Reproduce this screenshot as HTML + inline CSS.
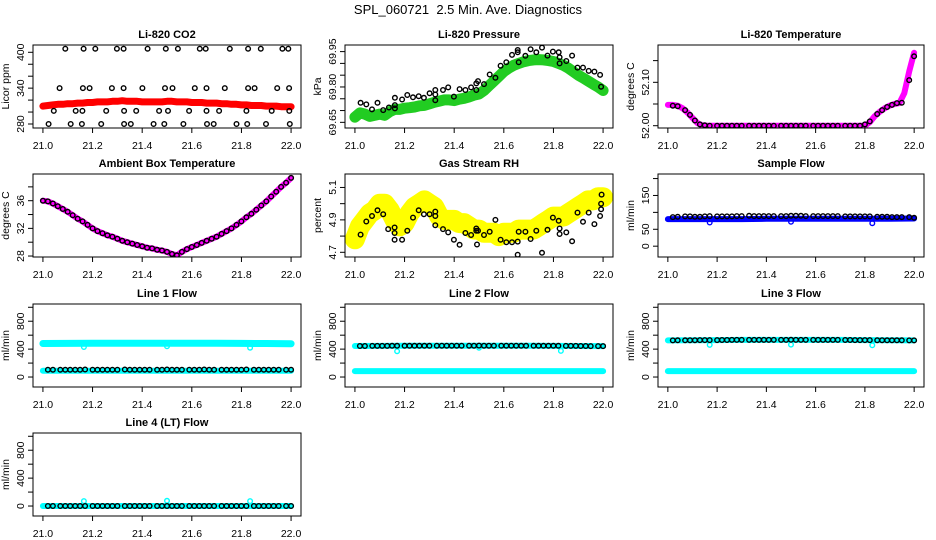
<!DOCTYPE html>
<html><head><meta charset="utf-8"><style>
html,body{margin:0;padding:0;background:#fff}
svg{display:block;font-family:"Liberation Sans",sans-serif}
</style></head><body>
<svg id="chart" width="936" height="540" viewBox="0 0 936 540">
<text x="468" y="14" text-anchor="middle" font-size="13" style="white-space:pre">SPL_060721&#160;&#160;2.5 Min. Ave. Diagnostics</text>
</svg>
<script>
const tBand=[21.00,21.02,21.04,21.06,21.08,21.10,21.12,21.14,21.16,21.18,21.20,21.22,21.24,21.26,21.28,21.30,21.32,21.34,21.36,21.38,21.40,21.42,21.44,21.46,21.48,21.50,21.52,21.54,21.56,21.58,21.60,21.62,21.64,21.66,21.68,21.70,21.72,21.74,21.76,21.78,21.80,21.82,21.84,21.86,21.88,21.90,21.92,21.94,21.96,21.98,22.00];
const tPts=[21.02,21.04,21.07,21.09,21.11,21.13,21.15,21.17,21.20,21.22,21.24,21.26,21.28,21.30,21.33,21.35,21.37,21.39,21.41,21.43,21.46,21.48,21.50,21.52,21.54,21.56,21.59,21.61,21.63,21.65,21.67,21.69,21.72,21.74,21.76,21.78,21.80,21.82,21.85,21.87,21.89,21.91,21.93,21.95,21.98,22.00];
const tFlow=[21.00,21.10,21.20,21.30,21.40,21.50,21.60,21.70,21.80,21.90,22.00];
const xTicks=[21.0,21.2,21.4,21.6,21.8,22.0];

const co2Red=[310,311,312,313,313,314,314,315,315,316,316,317,317,317,318,318,319,318,318,318,317,317,317,317,317,318,318,317,317,317,316,316,316,315,315,315,314,314,313,313,312,312,311,311,311,310,310,310,309,309,309];
const co2BlackX=[21.09,21.164,21.211,21.298,21.325,21.422,21.495,21.544,21.632,21.656,21.753,21.827,21.878,21.965,21.989,
21.067,21.161,21.188,21.278,21.325,21.401,21.492,21.522,21.612,21.659,21.733,21.827,21.853,21.944,21.992,
21.044,21.132,21.159,21.255,21.327,21.376,21.468,21.504,21.589,21.659,21.710,21.820,21.922,21.993,
21.023,21.112,21.157,21.235,21.327,21.354,21.446,21.489,21.566,21.661,21.688,21.78,21.823,21.899,21.995];
const co2BlackY=[406,406,406,406,406,406,406,406,406,406,406,406,406,406,406,
340,340,340,340,340,340,340,340,340,340,340,340,340,340,340,
302,302,302,302,302,302,302,302,302,302,302,302,302,302,
280,280,280,280,280,280,280,280,280,280,280,280,280,280,280];

const presGreen=[69.672,69.690,69.685,69.675,69.680,69.685,69.680,69.695,69.705,69.705,69.710,69.712,69.715,69.720,69.722,69.728,69.735,69.740,69.745,69.745,69.742,69.748,69.752,69.758,69.765,69.770,69.785,69.805,69.825,69.845,69.865,69.880,69.892,69.900,69.907,69.912,69.915,69.916,69.915,69.912,69.908,69.900,69.892,69.880,69.865,69.850,69.838,69.825,69.812,69.800,69.785];
const presBlackX=[21.023,21.046,21.069,21.091,21.114,21.137,21.161,21.161,21.161,21.19,21.211,21.234,21.257,21.278,21.301,21.324,21.324,21.324,21.355,21.376,21.399,21.422,21.445,21.468,21.489,21.489,21.496,21.52,21.543,21.566,21.587,21.61,21.633,21.656,21.656,21.66,21.687,21.708,21.731,21.754,21.776,21.798,21.821,21.825,21.825,21.852,21.875,21.897,21.919,21.942,21.965,21.988,21.992];
const presBlackY=[69.733,69.726,69.705,69.733,69.702,69.713,69.754,69.723,69.709,69.747,69.766,69.756,69.761,69.754,69.773,69.787,69.768,69.744,69.787,69.798,69.759,69.791,69.787,69.798,69.815,69.787,69.825,69.812,69.853,69.839,69.89,69.905,69.936,69.957,69.947,69.905,69.932,69.96,69.947,69.967,69.933,69.95,69.947,69.926,69.9,69.91,69.933,69.882,69.882,69.868,69.865,69.851,69.801];

const tempMag=[52.048,52.048,52.046,52.040,52.030,52.018,52.006,52.001,52.000,52.000,52.000,52.000,52.000,52.000,52.000,52.000,52.000,52.000,52.000,52.000,52.000,52.000,52.000,52.000,52.000,52.000,52.000,52.000,52.000,52.000,52.000,52.000,52.000,52.000,52.000,52.000,52.000,52.000,52.000,52.000,52.000,52.008,52.022,52.032,52.040,52.046,52.050,52.052,52.075,52.125,52.168];
const tempBlack=[52.046,52.045,52.036,52.025,52.012,52.003,52.001,52.000,52.000,52.000,52.000,52.000,52.000,52.000,52.000,52.000,52.000,52.000,52.000,52.000,52.000,52.000,52.000,52.000,52.000,52.000,52.000,52.000,52.000,52.000,52.000,52.000,52.000,52.000,52.000,52.000,52.003,52.010,52.027,52.036,52.043,52.048,52.052,52.053,52.105,52.160];

const ambMag=[36.0,35.9,35.6,35.2,34.8,34.4,33.9,33.4,33.0,32.5,32.0,31.6,31.3,31.0,30.8,30.5,30.2,30.0,29.8,29.6,29.4,29.2,29.1,28.9,28.8,28.6,28.3,28.1,28.6,29.0,29.3,29.6,29.9,30.2,30.5,30.8,31.2,31.6,32.0,32.5,33.0,33.6,34.1,34.7,35.3,35.9,36.6,37.3,38.0,38.6,39.3];

const rhYellow=[4.78,4.86,4.90,4.94,4.96,5.00,5.00,4.96,4.90,4.86,4.88,4.94,4.98,5.00,5.02,5.00,4.98,4.92,4.90,4.90,4.90,4.88,4.88,4.86,4.84,4.84,4.82,4.82,4.82,4.80,4.82,4.82,4.82,4.84,4.84,4.84,4.84,4.86,4.88,4.90,4.92,4.92,4.92,4.94,4.96,4.98,5.00,5.02,5.02,5.04,5.04];
const rhBlackX=[21.023,21.046,21.069,21.091,21.114,21.134,21.16,21.16,21.16,21.19,21.211,21.234,21.257,21.278,21.301,21.324,21.324,21.324,21.355,21.376,21.399,21.422,21.445,21.468,21.489,21.489,21.492,21.496,21.52,21.543,21.566,21.587,21.61,21.633,21.656,21.656,21.66,21.687,21.708,21.731,21.754,21.776,21.798,21.821,21.825,21.825,21.852,21.875,21.897,21.919,21.942,21.965,21.988,21.992,21.992,21.994];
const rhBlackY=[4.809,4.89,4.924,4.959,4.935,4.843,4.853,4.819,4.778,4.778,4.833,4.914,4.959,4.935,4.935,4.951,4.924,4.867,4.843,4.823,4.778,4.746,4.819,4.807,4.847,4.833,4.748,4.833,4.807,4.827,4.9,4.778,4.762,4.762,4.766,4.685,4.827,4.827,4.782,4.833,4.697,4.839,4.914,4.894,4.847,4.813,4.823,4.768,4.945,4.888,4.945,4.874,4.924,4.965,5.0,5.056];

const flowBlue=[80,80,80,80,81,81,81,81,81,81,82];
const flowBlack=[86,87,88,88,87,87,88,89,88,88,88,88,89,89,90,89,89,89,89,89,89,89,90,90,90,89,89,89,89,89,89,89,88,88,88,88,88,88,87,87,87,86,86,86,86,84];
const flowBlueOutX=[21.17,21.50,21.83];
const flowBlueOutY=[70,72,68];

const l1Upper=[480,482,484,484,484,484,484,484,482,480,478];
const l1Lower=[90,90,90,90,90,90,90,90,90,90,90];
const l1Black=[105,105,105,105,105,105,105,108,105,105,105,105,105,105,108,105,105,105,105,105,105,105,108,105,105,105,105,105,105,108,105,105,105,105,105,105,105,108,105,105,105,105,105,105,105,105];
const l1OutX=[21.165,21.50,21.835];
const l1OutY=[430,440,420];

const l2Upper=[445,446,447,448,448,448,448,447,446,445,443];
const l2Lower=[85,85,85,85,85,85,85,85,85,85,85];
const l2Black=[445,445,446,446,446,446,447,448,447,447,448,448,448,448,449,449,449,449,449,449,449,449,450,449,449,449,449,449,449,449,448,448,448,448,448,448,447,447,446,446,446,445,445,444,444,443];
const l2OutX=[21.17,21.50,21.83];
const l2OutY=[370,420,375];

const l3Upper=[525,528,530,532,533,533,533,532,530,528,525];
const l3Lower=[85,85,85,85,85,85,85,85,85,85,85];
const l3Black=[525,526,527,528,528,529,530,530,530,531,531,532,532,532,533,533,533,533,533,533,533,533,534,533,533,533,533,533,533,532,532,532,531,531,530,530,530,529,528,528,527,527,526,526,525,525];
const l3OutX=[21.17,21.50,21.83];
const l3OutY=[460,465,455];

const l4Cyan=[0,0,0,0,0,0,0,0,0,0,0];
const l4Black=[0,0,0,0,0,0,0,0,0,0,0,0,0,0,0,0,0,0,0,0,0,0,0,0,0,0,0,0,0,0,0,0,0,0,0,0,0,0,0,0,0,0,0,0,0,0];
const l4OutX=[21.165,21.50,21.835];
const l4OutY=[70,75,70];

const NS="http://www.w3.org/2000/svg";
const svg=document.getElementById('chart');
const cols=[[33,301],[345,613],[658,924]];
const rowsTop=[45,174,304,433];
const PH=83;
function mk(tag,attrs,parent){const e=document.createElementNS(NS,tag);for(const k in attrs)e.setAttribute(k,attrs[k]);parent.appendChild(e);return e;}

function panel(o){
  const L=cols[o.col][0],R=cols[o.col][1],T=rowsTop[o.row],B=T+PH,W=R-L;
  const g=mk('g',{},svg);
  
  
  const xs=v=>L+(v-20.96)/1.08*W;
  const ys=v=>B-(v-o.ylim[0])/(o.ylim[1]-o.ylim[0])*PH;
  const t=mk('text',{x:(L+R)/2,y:T-7,'text-anchor':'middle','font-size':11,'font-weight':'bold'},g);
  t.textContent=o.title;
  
  
  const cl='c'+o.name;
  const cp=mk('clipPath',{id:cl},g);mk('rect',{x:L,y:T,width:W,height:PH},cp);
  const plot=mk('g',{'clip-path':'url(#'+cl+')'},g);
  
  
  o.series.forEach(s=>{
    if(s.type==='band'){
      const pts=s.x.map((v,i)=>xs(v).toFixed(1)+','+ys(s.y[i]).toFixed(1)).join(' ');
      const p=mk('polyline',{points:pts,fill:'none',stroke:s.color,'stroke-width':s.w,'stroke-linejoin':'round','stroke-linecap':'round'},plot);
      
      
    } else {
      const sg=mk('g',{fill:'none',stroke:s.color,'stroke-width':s.sw||1.4},plot);
      
      
      s.x.forEach((v,i)=>{
        const c=mk('circle',{cx:xs(v).toFixed(1),cy:ys(s.y[i]).toFixed(1),r:s.r||2.3},sg);
        
        
      });
    }
  });
  const box=mk('rect',{x:L,y:T,width:W,height:PH,fill:'none',stroke:'#000','stroke-width':1},g);
  
  
  const xa=mk('g',{},g);
  
  
  mk('line',{x1:xs(xTicks[0]),x2:xs(xTicks[xTicks.length-1]),y1:B,y2:B,stroke:'#000'},xa);
  xTicks.forEach(v=>{
    mk('line',{x1:xs(v),x2:xs(v),y1:B,y2:B+5,stroke:'#000'},xa);
    const tl=mk('text',{x:xs(v),y:B+21,'text-anchor':'middle','font-size':10.5},xa);
    tl.textContent=v.toFixed(1);
    
    
  });
  const ya=mk('g',{},g);
  
  
  mk('line',{x1:L,x2:L,y1:ys(o.yticks[0]),y2:ys(o.yticks[o.yticks.length-1]),stroke:'#000'},ya);
  o.yticks.forEach(v=>{mk('line',{x1:L-5,x2:L,y1:ys(v),y2:ys(v),stroke:'#000'},ya);});
  o.ylabels.forEach(v=>{
    const y=ys(v);
    const tl=mk('text',{x:L-9,y:y,'text-anchor':'middle','font-size':10.5,transform:'rotate(-90 '+(L-9)+' '+y+')'},ya);
    tl.textContent=o.fmt?o.fmt(v):String(v);
    
    
  });
  const yl=mk('text',{x:L-24,y:(T+B)/2,'text-anchor':'middle','font-size':10.5,transform:'rotate(-90 '+(L-24)+' '+((T+B)/2)+')'},g);
  yl.textContent=o.ylab;
  
  
}

panel({name:'co2',col:0,row:0,title:'Li-820 CO2',ylab:'Licor ppm',ylim:[273.3,412.2],yticks:[280,300,320,340,360,380,400],ylabels:[280,340,400],
 series:[{type:'band',name:'co2-red-series',x:tBand,y:co2Red,color:'#ff0000',w:7},{type:'pts',name:'co2-black-series',x:co2BlackX,y:co2BlackY,color:'#000'}]});
panel({name:'pressure',col:1,row:0,title:'Li-820 Pressure',ylab:'kPa',ylim:[69.626,69.978],yticks:[69.65,69.70,69.75,69.80,69.85,69.90,69.95],ylabels:[69.65,69.80,69.95],fmt:v=>v.toFixed(2),
 series:[{type:'band',name:'pressure-green-series',x:tBand,y:presGreen,color:'#22cc22',w:11},{type:'pts',name:'pressure-black-series',x:presBlackX,y:presBlackY,color:'#000'}]});
panel({name:'temperature',col:2,row:0,title:'Li-820 Temperature',ylab:'degrees C',ylim:[51.9947,52.186],yticks:[52.00,52.05,52.10,52.15],ylabels:[52.00,52.10],fmt:v=>v.toFixed(2),
 series:[{type:'band',name:'temperature-magenta-series',x:tBand,y:tempMag,color:'#ff00ff',w:6},{type:'pts',name:'temperature-black-series',x:tPts,y:tempBlack,color:'#000'}]});
panel({name:'ambient',col:0,row:1,title:'Ambient Box Temperature',ylab:'degrees C',ylim:[27.86,39.86],yticks:[28,30,32,34,36,38],ylabels:[28,32,36],
 series:[{type:'band',name:'ambient-magenta-series',x:tBand,y:ambMag,color:'#ff00ff',w:6},{type:'pts',name:'ambient-black-series',x:tBand,y:ambMag,color:'#000'}]});
panel({name:'rh',col:1,row:1,title:'Gas Stream RH',ylab:'percent',ylim:[4.671,5.183],yticks:[4.7,4.8,4.9,5.0,5.1],ylabels:[4.7,4.9,5.1],fmt:v=>v.toFixed(1),
 series:[{type:'band',name:'rh-yellow-series',x:tBand,y:rhYellow,color:'#ffff00',w:20},{type:'pts',name:'rh-black-series',x:rhBlackX,y:rhBlackY,color:'#000'}]});
panel({name:'sample-flow',col:2,row:1,title:'Sample Flow',ylab:'ml/min',ylim:[-32,213.5],yticks:[0,50,100,150,200],ylabels:[0,50,150],
 series:[{type:'band',name:'sample-flow-blue-series',x:tFlow,y:flowBlue,color:'#0000ff',w:6},{type:'pts',name:'sample-flow-blue-outliers',x:flowBlueOutX,y:flowBlueOutY,color:'#0000ff'},{type:'pts',name:'sample-flow-black-series',x:tPts,y:flowBlack,color:'#000'}]});
const fl={ylab:'ml/min',ylim:[-143,1047],yticks:[0,200,400,600,800,1000],ylabels:[0,400,800]};
panel(Object.assign({name:'line1',col:0,row:2,title:'Line 1 Flow',series:[
 {type:'band',name:'line1-cyan-upper',x:tFlow,y:l1Upper,color:'#00ffff',w:7},{type:'band',name:'line1-cyan-lower',x:tFlow,y:l1Lower,color:'#00ffff',w:6},
 {type:'pts',name:'line1-cyan-outliers',x:l1OutX,y:l1OutY,color:'#00ffff'},{type:'pts',name:'line1-black-series',x:tPts,y:l1Black,color:'#000'}]},fl));
panel(Object.assign({name:'line2',col:1,row:2,title:'Line 2 Flow',series:[
 {type:'band',name:'line2-cyan-upper',x:tFlow,y:l2Upper,color:'#00ffff',w:6},{type:'band',name:'line2-cyan-lower',x:tFlow,y:l2Lower,color:'#00ffff',w:6},
 {type:'pts',name:'line2-cyan-outliers',x:l2OutX,y:l2OutY,color:'#00ffff'},{type:'pts',name:'line2-black-series',x:tPts,y:l2Black,color:'#000'}]},fl));
panel(Object.assign({name:'line3',col:2,row:2,title:'Line 3 Flow',series:[
 {type:'band',name:'line3-cyan-upper',x:tFlow,y:l3Upper,color:'#00ffff',w:6},{type:'band',name:'line3-cyan-lower',x:tFlow,y:l3Lower,color:'#00ffff',w:6},
 {type:'pts',name:'line3-cyan-outliers',x:l3OutX,y:l3OutY,color:'#00ffff'},{type:'pts',name:'line3-black-series',x:tPts,y:l3Black,color:'#000'}]},fl));
panel(Object.assign({name:'line4',col:0,row:3,title:'Line 4 (LT) Flow',series:[
 {type:'band',name:'line4-cyan-series',x:tFlow,y:l4Cyan,color:'#00ffff',w:6},
 {type:'pts',name:'line4-cyan-outliers',x:l4OutX,y:l4OutY,color:'#00ffff'},{type:'pts',name:'line4-black-series',x:tPts,y:l4Black,color:'#000'}]},fl));
</script>
</body></html>
